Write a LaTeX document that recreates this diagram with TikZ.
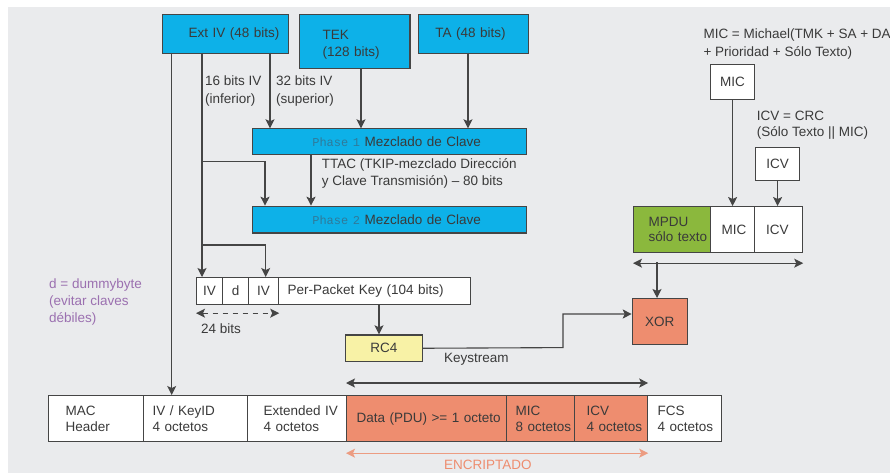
\documentclass[tikz,border=0pt]{standalone}
\usepackage{fontspec}
\setmainfont{Liberation Sans}
\newfontfamily\monof{Liberation Mono}
\usetikzlibrary{arrows.meta}
\definecolor{bgc}{HTML}{EAEBED}
\definecolor{cyanb}{HTML}{0DB1E8}
\definecolor{greenb}{HTML}{8BB83D}
\definecolor{salm}{HTML}{EE8D6F}
\definecolor{salml}{HTML}{EC9C82}
\definecolor{yel}{HTML}{F8F2A6}
\definecolor{bd}{HTML}{454545}
\definecolor{tx}{HTML}{3A3A3A}
\definecolor{purp}{HTML}{9B70B0}
\definecolor{phc}{HTML}{2F7A9A}
\newcommand\pad[1]{\hspace*{#1pt}}
\begin{document}
\begin{tikzpicture}[x=1pt,y=-1pt,
 fnt/.style={font=\fontsize{13.5}{16.5}\selectfont},
 bx/.style={fnt, text=tx, draw=bd, line width=1.2pt, inner xsep=0pt, inner ysep=0pt, anchor=north west, align=left},
 cbx/.style={bx, align=center},
 rowf/.style={font=\fontsize{13.5}{15.5}\selectfont},
 lbl/.style={font=\fontsize{13.5}{17}\selectfont, text=tx, inner sep=0pt, align=left, anchor=west},
 ln/.style={draw=bd, line width=1.1pt},
 ar/.style={ln, -{Stealth[length=9pt,width=9pt,inset=2pt]}},
 dar/.style={ln, {Stealth[length=9pt,width=9pt,inset=2pt]}-{Stealth[length=9pt,width=9pt,inset=2pt]}},
]
\fill[white] (0,0) rectangle (890,473);
\fill[bgc] (8,7) rectangle (890,473);
\useasboundingbox (0,0) rectangle (890,473);

% top key boxes
\node[bx, fill=cyanb, text width=126pt, minimum height=38.7pt] (extiv) at (162,14) {\pad{26}Ext IV (48 bits)};
\node[bx, fill=cyanb, text width=110.3pt, minimum height=54.3pt, font=\fontsize{13.5}{17}\selectfont] (tek) at (299,14) {\vphantom{Xg}\\[-11pt]\pad{23}TEK\\\pad{23}(128 bits)};
\node[bx, fill=cyanb, text width=110pt, minimum height=38.7pt] (ta) at (417.7,14) {\pad{17}TA (48 bits)};

% phases
\node[bx, fill=cyanb, text width=274.3pt, minimum height=26pt] (ph1) at (251.7,128.3) {\pad{60}{\monof\fontsize{12}{14}\selectfont\color{phc}Phase 1} Mezclado de Clave};
\node[bx, fill=cyanb, text width=274.3pt, minimum height=26.6pt] (ph2) at (251.7,205.7) {\pad{60}{\monof\fontsize{12}{14}\selectfont\color{phc}Phase 2} Mezclado de Clave};

% per-packet key row
\node[cbx, fill=white, text width=26pt, minimum height=27pt] (iv1) at (196,277) {IV};
\node[cbx, fill=white, text width=26pt, minimum height=27pt] (dd) at (222,277) {d};
\node[cbx, fill=white, text width=30pt, minimum height=27pt] (iv2) at (248,277) {IV};
\node[bx, fill=white, text width=192pt, minimum height=27pt] (ppk) at (278,277) {\pad{9}Per-Packet Key (104 bits)};

% RC4 and XOR
\node[cbx, fill=yel, text width=76.7pt, minimum height=26.7pt] (rc4) at (345,334.3) {RC4};
\node[cbx, fill=salm, text width=55pt, minimum height=46pt] (xor) at (631.7,298) {XOR};

% MPDU row
\node[bx, rowf, fill=greenb, text width=77pt, minimum height=46pt] (mpdu) at (633,206) {\pad{15}MPDU\\\pad{15}sólo texto};
\node[bx, fill=white, text width=44pt, minimum height=46pt] (mmic) at (710,206) {\pad{11}MIC};
\node[bx, fill=white, text width=48pt, minimum height=46pt] (micv) at (754,206) {\pad{11.5}ICV};
\node[cbx, fill=white, text width=44pt, minimum height=35pt] (smic) at (710,64) {MIC};
\node[cbx, fill=white, text width=44pt, minimum height=33pt] (sicv) at (755,147) {ICV};

% bottom frame row
\node[bx, rowf, fill=white, text width=95pt, minimum height=46pt] (mac) at (48,395) {\pad{17}MAC\\\pad{17}Header};
\node[bx, rowf, fill=white, text width=104pt, minimum height=46pt] (ivk) at (143,395) {\pad{9}IV / KeyID\\\pad{9}4 octetos};
\node[bx, rowf, fill=white, text width=99pt, minimum height=46pt] (eiv) at (247,395) {\pad{16}Extended IV\\\pad{16}4 octetos};
\node[bx, rowf, fill=salm, text width=160pt, minimum height=46pt] (data) at (346,395) {\pad{10}Data (PDU) >= 1 octeto};
\node[bx, rowf, fill=salm, text width=68pt, minimum height=46pt] (bmic) at (506,395) {\pad{9}MIC\\\pad{9}8 octetos};
\node[bx, rowf, fill=salm, text width=73pt, minimum height=46pt] (bicv) at (574,395) {\pad{12}ICV\\\pad{12}4 octetos};
\node[bx, rowf, fill=white, text width=74pt, minimum height=46pt] (fcs) at (647,395) {\pad{10}FCS\\\pad{10}4 octetos};

% labels
\node[lbl, font=\fontsize{13.5}{18.3}\selectfont] (l16) at (205,91) {16 bits IV\\(inferior)};
\node[lbl, font=\fontsize{13.5}{18.3}\selectfont] (l32) at (276,91) {32 bits IV\\(superior)};
\node[lbl] (lttac) at (321.7,173.3) {TTAC (TKIP-mezclado Dirección\\y Clave Transmisión) – 80 bits};
\node[lbl, text=purp] (ldum) at (49,302) {d = dummybyte\\(evitar claves\\débiles)};
\node[lbl] (l24) at (201,329) {24 bits};
\node[lbl] (lks) at (444,359) {Keystream};
\node[lbl, text=salm] (lenc) at (444,465) {ENCRIPTADO};
\node[lbl, font=\fontsize{13.5}{17.7}\selectfont] (lmich) at (703.3,44) {MIC = Michael(TMK + SA + DA\\+ Prioridad + Sólo Texto)};
\node[lbl, font=\fontsize{13.5}{16.3}\selectfont] (licv) at (756.7,125) {ICV = CRC\\(Sólo Texto || MIC)};

% coordinates for connector routes
\coordinate (a1) at (171.7,52.7);
\coordinate (a2) at (202,52.7);
\coordinate (a3) at (270,52.7);
\coordinate (a4) at (361,68.3);
\coordinate (a5) at (468,52.7);
\coordinate (b1) at (311,154.3);
\coordinate (c1) at (202,161.7);
\coordinate (c2) at (265,161.7);
\coordinate (d1) at (202,245);
\coordinate (d2) at (265.7,245);
\coordinate (e1) at (379,304);
\coordinate (k1) at (563,347.6);
\coordinate (k2) at (563,314);
\coordinate (m1) at (657,262);

% connectors
\draw[ar] (a1) -- (a1 |- ivk.north);
\draw[ar] (a2) -- (a2 |- iv1.north);
\draw[ar] (a3) -- (a3 |- ph1.north);
\draw[ar] (a4) -- (a4 |- ph1.north);
\draw[ar] (a5) -- (a5 |- ph1.north);
\draw[ar] (b1) -- (b1 |- ph2.north);
\draw[ar] (c1) -- (c2) -- (c2 |- ph2.north);
\draw[ar] (d1) -- (d2) -- (d2 |- iv2.north);
\draw[ar] (e1) -- (e1 |- rc4.north);
\draw[ar] (rc4.east) -- (k1) -- (k2) -- (k2 -| xor.west);
\draw[ar] (m1) -- (m1 |- xor.north);
\draw[ar] (smic.south) -- (smic.south |- mmic.north);
\draw[ar] (sicv.south) -- (sicv.south |- micv.north);

\draw[dar] ([yshift=-10pt]mpdu.south west) -- ([yshift=-10pt]micv.south east);
\draw[dar] ([yshift=12pt]data.north west) -- ([yshift=12pt]bicv.north east);
\draw[dar, draw=salml] ([yshift=-11pt]data.south west) -- ([yshift=-11pt]bicv.south east);
\draw[dar, dash pattern=on 5pt off 5pt] ([yshift=-8pt]iv1.south west) -- ([yshift=-8pt]iv2.south east);
\end{tikzpicture}
\end{document}
